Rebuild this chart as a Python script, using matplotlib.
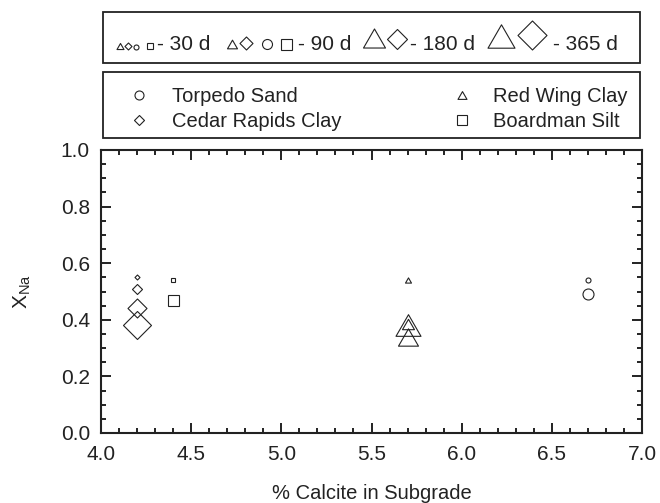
import numpy as np
import matplotlib
matplotlib.use("Agg")
import matplotlib.pyplot as plt
from matplotlib.path import Path
from matplotlib.ticker import MultipleLocator, FormatStrFormatter

plt.rcParams["font.family"] = ["Liberation Sans", "DejaVu Sans"]

# ---- data -------------------------------------------------------------
soils = ["Torpedo Sand", "Cedar Rapids Clay", "Red Wing Clay", "Boardman Silt"]
calcite_pct = [6.7, 4.2, 5.7, 4.4]
days = [30, 90, 180, 365]
# X_Na for each soil at 30, 90, 180, 365 days (nan = not measured)
xna_torpedo = [0.54, 0.49, np.nan, np.nan]
xna_cedar = [0.55, 0.51, 0.44, 0.38]
xna_redwing = [0.54, 0.385, 0.34, 0.38]
xna_boardman = [0.54, 0.47, np.nan, np.nan]
xna_values = [xna_torpedo, xna_cedar, xna_redwing, xna_boardman]

legend_groups = ["- 30 d", "- 90 d", "- 180 d", "- 365 d"]

# ---- marker styles ----------------------------------------------------
TRI = Path([(0, 0.433), (-0.5, -0.433), (0.5, -0.433), (0, 0.433)],
           [Path.MOVETO, Path.LINETO, Path.LINETO, Path.CLOSEPOLY])
DIA = Path([(0, 0.5), (0.5, 0), (0, -0.5), (-0.5, 0), (0, 0.5)],
           [Path.MOVETO, Path.LINETO, Path.LINETO, Path.LINETO, Path.CLOSEPOLY])
shape_of = {"Torpedo Sand": "o", "Cedar Rapids Clay": DIA,
            "Red Wing Clay": TRI, "Boardman Silt": "s"}
# marker extent in pixels for each soil and age
size_px = {"Torpedo Sand": {30: 5, 90: 11},
           "Cedar Rapids Clay": {30: 5, 90: 10, 180: 19, 365: 28},
           "Red Wing Clay": {30: 6, 90: 12, 180: 20, 365: 25},
           "Boardman Silt": {30: 5, 90: 11}}
EDGE = "#222222"
PX2PT = 72.0 / 100.0

W, H = 660, 503
fig = plt.figure(figsize=(W / 100, H / 100), dpi=100)
ax = fig.add_axes([101 / W, (H - 433) / H, 541 / W, 283 / H])

for soil, x, vals in zip(soils, calcite_pct, xna_values):
    for d, v in zip(days, vals):
        if np.isnan(v):
            continue
        ax.plot([x], [v], linestyle="none", marker=shape_of[soil],
                markersize=size_px[soil][d] * PX2PT, markerfacecolor="none",
                markeredgecolor=EDGE, markeredgewidth=0.8)

ax.set_xlim(4.0, 7.0)
ax.set_ylim(0.0, 1.0)
ax.xaxis.set_major_locator(MultipleLocator(0.5))
ax.xaxis.set_minor_locator(MultipleLocator(0.1))
ax.yaxis.set_major_locator(MultipleLocator(0.2))
ax.yaxis.set_minor_locator(MultipleLocator(0.05))
ax.xaxis.set_major_formatter(FormatStrFormatter("%.1f"))
ax.yaxis.set_major_formatter(FormatStrFormatter("%.1f"))
ax.tick_params(which="both", direction="in", top=True, right=True,
               color=EDGE, width=1.4, labelsize=15, labelcolor="#222222")
ax.tick_params(which="major", length=7.5)
ax.tick_params(axis="y", which="major", pad=8)
ax.tick_params(axis="x", which="major", pad=9)
ax.tick_params(which="minor", length=3.8)
for sp in ax.spines.values():
    sp.set_linewidth(1.5)
    sp.set_color(EDGE)
ax.set_xlabel("% Calcite in Subgrade", fontsize=14.5, color="#222222", labelpad=14)
ax.set_ylabel("X$_{\\mathregular{Na}}$", fontsize=15, color="#222222", labelpad=20)

# ---- legend boxes (drawn in figure pixel space) ----------------------
lg = fig.add_axes([0, 0, 1, 1], facecolor="none")
lg.set_xlim(0, W)
lg.set_ylim(H, 0)
lg.axis("off")

def box(x0, y0, x1, y1):
    lg.add_patch(plt.Rectangle((x0, y0), x1 - x0, y1 - y0, fill=False,
                               edgecolor=EDGE, linewidth=1.3))

def glyph(x, y, shape, px):
    lg.plot([x], [y], linestyle="none", marker=shape, markersize=px * PX2PT,
            markerfacecolor="none", markeredgecolor=EDGE, markeredgewidth=0.8)

box(103, 12, 640, 63)
base = 50
age_glyphs = [
    [(120, TRI, 7), (127.5, DIA, 7), (136, "o", 5), (150, "s", 6)],
    [(232, TRI, 10), (246, DIA, 13), (267, "o", 10), (286, "s", 11)],
    [(374, TRI, 22), (397, DIA, 20)],
    [(501, TRI, 27), (532, DIA, 29)],
]
text_x = [157, 298, 410, 553]
for glyphs, label, tx in zip(age_glyphs, legend_groups, text_x):
    for gx, shp, px in glyphs:
        glyph(gx, base - px / 2 - 1, shp, px)
    lg.text(tx, base, label, fontsize=15, color="#222222",
            ha="left", va="baseline")

box(103, 72, 640, 138)
soil_entries = [
    ("Torpedo Sand", 139, 95, 172),
    ("Cedar Rapids Clay", 139, 120, 172),
    ("Red Wing Clay", 462, 95, 493),
    ("Boardman Silt", 462, 120, 493),
]
soil_glyph_px = {"Torpedo Sand": 9, "Cedar Rapids Clay": 10,
                 "Red Wing Clay": 9, "Boardman Silt": 10}
for name, mx, my, tx in soil_entries:
    glyph(mx, my, shape_of[name], soil_glyph_px[name])
    lg.text(tx, my + 1, name, fontsize=14.5, color="#222222",
            ha="left", va="center")

fig.savefig("out.png", dpi=100)
